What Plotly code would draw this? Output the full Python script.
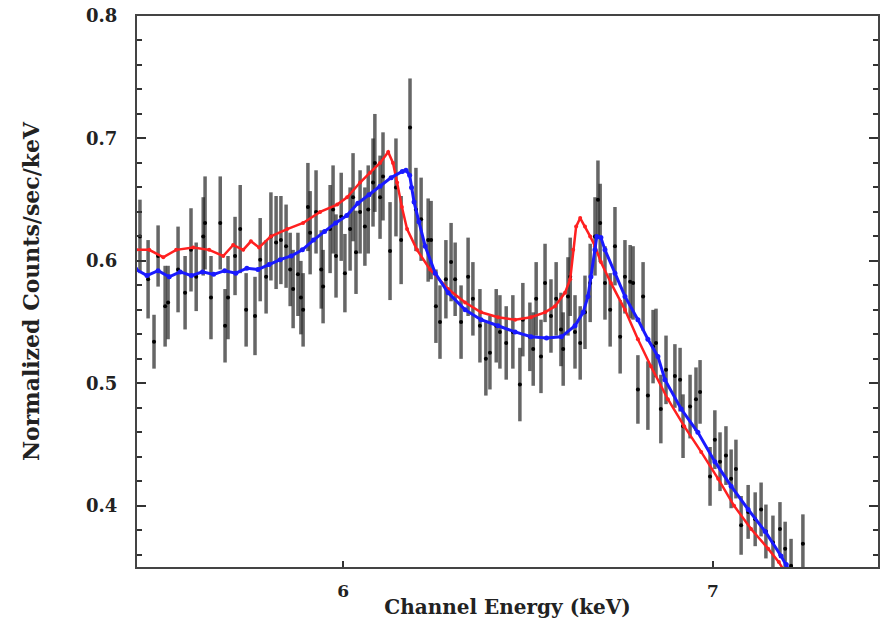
import plotly.graph_objects as go

# Observed spectrum (channel energy in keV, normalized counts/sec/keV, 1-sigma errors)
energy = [
    5.451, 5.473, 5.489, 5.500, 5.519, 5.527, 5.554, 5.573, 5.589, 5.603,
    5.622, 5.627, 5.643, 5.668, 5.681, 5.689, 5.708, 5.722, 5.738, 5.762,
    5.776, 5.792, 5.805, 5.819, 5.832, 5.846, 5.857, 5.865, 5.878, 5.886,
    5.892, 5.905, 5.911, 5.927, 5.941, 5.946, 5.965, 5.973, 5.981, 5.995,
    6.005, 6.019, 6.027, 6.035, 6.046, 6.059, 6.068, 6.081, 6.086, 6.100,
    6.108, 6.127, 6.143, 6.157, 6.181, 6.197, 6.211, 6.230, 6.238, 6.251,
    6.262, 6.278, 6.292, 6.303, 6.319, 6.338, 6.351, 6.370, 6.386, 6.397,
    6.414, 6.424, 6.441, 6.459, 6.478, 6.486, 6.505, 6.514, 6.522, 6.535,
    6.546, 6.562, 6.576, 6.589, 6.595, 6.608, 6.614, 6.627, 6.641, 6.654,
    6.668, 6.681, 6.689, 6.695, 6.708, 6.722, 6.735, 6.749, 6.762, 6.776,
    6.784, 6.797, 6.811, 6.824, 6.838, 6.846, 6.859, 6.873, 6.897, 6.911,
    6.919, 6.938, 6.954, 6.965, 6.992, 7.005, 7.019, 7.035, 7.049, 7.062,
    7.076, 7.095, 7.114, 7.130, 7.143, 7.162, 7.181, 7.195, 7.211, 7.243,
]
counts = [
    0.620, 0.585, 0.534, 0.604, 0.563, 0.566, 0.593, 0.574, 0.609, 0.587,
    0.620, 0.631, 0.570, 0.631, 0.547, 0.570, 0.604, 0.626, 0.560, 0.555,
    0.601, 0.587, 0.620, 0.615, 0.617, 0.612, 0.593, 0.577, 0.589, 0.570,
    0.560, 0.644, 0.623, 0.640, 0.593, 0.579, 0.626, 0.642, 0.604, 0.636,
    0.590, 0.626, 0.652, 0.607, 0.640, 0.628, 0.642, 0.664, 0.680, 0.652,
    0.669, 0.608, 0.660, 0.617, 0.709, 0.642, 0.634, 0.617, 0.617, 0.563,
    0.550, 0.585, 0.599, 0.585, 0.550, 0.587, 0.569, 0.547, 0.520, 0.525,
    0.547, 0.542, 0.533, 0.542, 0.499, 0.552, 0.538, 0.528, 0.569, 0.522,
    0.582, 0.555, 0.569, 0.544, 0.528, 0.571, 0.587, 0.542, 0.533, 0.558,
    0.582, 0.620, 0.650, 0.631, 0.582, 0.560, 0.612, 0.538, 0.587, 0.583,
    0.582, 0.495, 0.571, 0.490, 0.530, 0.533, 0.479, 0.511, 0.506, 0.503,
    0.465, 0.481, 0.487, 0.493, 0.424, 0.454, 0.436, 0.441, 0.422, 0.430,
    0.384, 0.395, 0.389, 0.397, 0.379, 0.370, 0.381, 0.365, 0.351, 0.369,
]
errors = [
    0.030, 0.032, 0.022, 0.025, 0.033, 0.030, 0.035, 0.030, 0.034, 0.028,
    0.032, 0.038, 0.034, 0.038, 0.030, 0.034, 0.032, 0.036, 0.030, 0.032,
    0.034, 0.030, 0.036, 0.038, 0.036, 0.034, 0.030, 0.032, 0.034, 0.030,
    0.030, 0.036, 0.034, 0.034, 0.032, 0.030, 0.036, 0.036, 0.034, 0.036,
    0.032, 0.034, 0.036, 0.034, 0.034, 0.032, 0.036, 0.036, 0.040, 0.034,
    0.036, 0.040, 0.040, 0.036, 0.040, 0.034, 0.034, 0.034, 0.032, 0.030,
    0.030, 0.032, 0.032, 0.030, 0.030, 0.032, 0.030, 0.030, 0.030, 0.030,
    0.030, 0.030, 0.030, 0.030, 0.030, 0.030, 0.028, 0.030, 0.030, 0.030,
    0.032, 0.030, 0.030, 0.030, 0.030, 0.032, 0.032, 0.030, 0.030, 0.030,
    0.032, 0.032, 0.032, 0.032, 0.030, 0.030, 0.032, 0.030, 0.030, 0.030,
    0.030, 0.028, 0.028, 0.028, 0.030, 0.028, 0.028, 0.028, 0.026, 0.026,
    0.026, 0.026, 0.026, 0.026, 0.024, 0.024, 0.024, 0.024, 0.024, 0.024,
    0.024, 0.022, 0.022, 0.022, 0.022, 0.022, 0.022, 0.022, 0.022, 0.024,
]

# Model curves
red_energy = [
    5.440, 5.476, 5.514, 5.549, 5.595, 5.638, 5.676, 5.703, 5.730, 5.751,
    5.773, 5.805, 5.849, 5.892, 5.938, 5.984, 6.011, 6.046, 6.073, 6.100,
    6.122, 6.135, 6.146, 6.159, 6.173, 6.200, 6.235, 6.284, 6.330, 6.373,
    6.419, 6.465, 6.508, 6.546, 6.573, 6.600, 6.614, 6.622, 6.630, 6.641,
    6.654, 6.668, 6.681, 6.697, 6.724, 6.762, 6.797, 6.832, 6.878, 6.922,
    6.968, 7.014, 7.057, 7.103, 7.149, 7.178, 7.190,
]
red_model = [
    0.609, 0.609, 0.603, 0.609, 0.611, 0.609, 0.604, 0.613, 0.609, 0.616,
    0.611, 0.620, 0.626, 0.631, 0.640, 0.646, 0.652, 0.664, 0.672, 0.680,
    0.689, 0.680, 0.664, 0.644, 0.626, 0.609, 0.593, 0.577, 0.566, 0.558,
    0.554, 0.552, 0.554, 0.558, 0.563, 0.574, 0.585, 0.609, 0.628, 0.635,
    0.628, 0.620, 0.612, 0.599, 0.582, 0.560, 0.536, 0.514, 0.487, 0.465,
    0.444, 0.422, 0.400, 0.381, 0.365, 0.354, 0.348,
]
blue_energy = [
    5.440, 5.470, 5.500, 5.530, 5.560, 5.590, 5.620, 5.650, 5.680, 5.710,
    5.740, 5.770, 5.800, 5.830, 5.860, 5.890, 5.920, 5.950, 5.980, 6.010,
    6.040, 6.070, 6.100, 6.130, 6.160, 6.170, 6.180, 6.185, 6.192, 6.205,
    6.222, 6.249, 6.284, 6.330, 6.373, 6.419, 6.465, 6.508, 6.550, 6.590,
    6.627, 6.649, 6.662, 6.670, 6.681, 6.686, 6.697, 6.708, 6.735, 6.762,
    6.797, 6.824, 6.851, 6.870, 6.914, 6.959, 7.005, 7.049, 7.095, 7.141,
    7.184, 7.198, 7.210,
]
blue_model = [
    0.593, 0.588, 0.592, 0.587, 0.591, 0.588, 0.591, 0.589, 0.592, 0.590,
    0.594, 0.593, 0.597, 0.601, 0.604, 0.609, 0.617, 0.624, 0.631, 0.637,
    0.647, 0.654, 0.661, 0.668, 0.673, 0.674, 0.670, 0.660, 0.648, 0.632,
    0.612, 0.590, 0.574, 0.560, 0.552, 0.547, 0.542, 0.538, 0.537, 0.538,
    0.547, 0.558, 0.571, 0.587, 0.609, 0.620, 0.619, 0.609, 0.590, 0.571,
    0.552, 0.536, 0.522, 0.503, 0.479, 0.460, 0.436, 0.416, 0.397, 0.379,
    0.359, 0.352, 0.345,
]

FONT = "DejaVu Serif"

fig = go.Figure()

fig.add_trace(go.Scatter(
    x=energy, y=counts, mode="markers",
    marker=dict(color="black", size=4),
    error_y=dict(type="data", array=errors, color="rgba(30,30,30,0.68)",
                 thickness=3.5, width=0),
    showlegend=False,
))
fig.add_trace(go.Scatter(
    x=red_energy, y=red_model, mode="lines+markers",
    line=dict(color="#ff2020", width=2.5),
    marker=dict(color="#ff2020", size=4),
    showlegend=False,
))
fig.add_trace(go.Scatter(
    x=blue_energy, y=blue_model, mode="lines+markers",
    line=dict(color="#1a1aff", width=3),
    marker=dict(color="#1a1aff", size=5),
    showlegend=False,
))

fig.update_layout(
    width=885, height=631,
    margin=dict(l=137, r=7, t=16, b=64),
    plot_bgcolor="white", paper_bgcolor="white",
    font=dict(family=FONT, color="#222", size=16, weight="bold"),
)
fig.update_xaxes(
    range=[5.443, 7.446],
    tickvals=[6, 7], ticktext=["6", "7"],
    ticks="inside", ticklen=6, tickwidth=2, tickcolor="#333",
    showline=True, linecolor="#444", linewidth=2, mirror=True,
    showgrid=False, zeroline=False, automargin=False,
    ticklabelstandoff=8, ticklabeloverflow="allow",
    tickfont=dict(family=FONT, size=17, weight="bold"),
    title=dict(text="Channel Energy (keV)", standoff=0,
               font=dict(family=FONT, size=20, weight="bold")),
)
fig.update_yaxes(
    range=[0.35, 0.8],
    tickvals=[0.4, 0.5, 0.6, 0.7, 0.8],
    ticks="inside", ticklen=9, tickwidth=2, tickcolor="#333",
    minor=dict(dtick=0.02, ticks="inside", ticklen=5, tickwidth=2,
               tickcolor="#333", showgrid=False),
    showline=True, linecolor="#444", linewidth=2, mirror="allticks",
    showgrid=False, zeroline=False, automargin=False,
    ticklabelstandoff=14, ticklabeloverflow="allow",
    tickfont=dict(family=FONT, size=18, weight="bold"),
    title=dict(text="Normalized Counts/sec/keV", standoff=40,
               font=dict(family=FONT, size=22, weight="bold")),
)

# drop the default page margin so the figure fills the window exactly
fig.write_html("out.html", config={"displayModeBar": False},
               post_script="document.body.style.margin='0';")
